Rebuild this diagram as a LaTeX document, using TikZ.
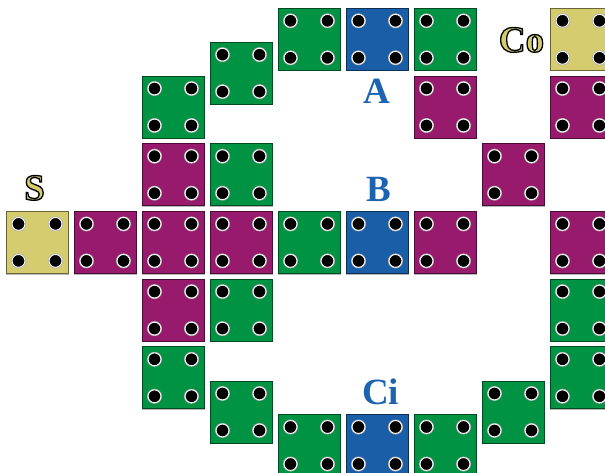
\documentclass[tikz,border=0pt]{standalone}
\usepackage{fontspec}
\setmainfont{Liberation Serif}
\definecolor{grn}{RGB}{0,147,68}
\definecolor{mag}{RGB}{151,26,108}
\definecolor{blu}{RGB}{26,94,168}
\definecolor{yel}{RGB}{213,203,111}
\definecolor{lblu}{RGB}{28,100,176}
\newcommand{\outlinetext}[1]{{\color{yel}\special{pdf:literal direct 0 0 0 RG 2 Tr 1.3 w}#1\special{pdf:literal direct 0 Tr}}}
\tikzset{
  tile/.style={rectangle, minimum width=62pt, minimum height=62pt, inner sep=0pt,
    fill=#1, draw=#1!50!black, line width=0.8pt,
    path picture={
      \foreach \sx in {-18.5,18.5}{\foreach \sy in {-18.5,18.5}{
        \fill[gray!65] ([shift={(\sx pt,\sy pt)}]path picture bounding box.center) circle (7.5pt);
        \filldraw[fill=black,draw=white,line width=0.9pt] ([shift={(\sx pt,\sy pt)}]path picture bounding box.center) circle (6.4pt);
      }}
    }},
  shadow/.style={rectangle, minimum width=63.4pt, minimum height=63.4pt, inner sep=0pt, fill=gray!55},
  lbl/.style={font=\bfseries\fontsize{37}{40}\selectfont, text=lblu, inner sep=0pt, anchor=base},
  olbl/.style={font=\bfseries\fontsize{37}{40}\selectfont, inner sep=0pt, anchor=base},
}
\begin{document}
\begin{tikzpicture}[x=1pt,y=-1pt]
\useasboundingbox (0,0) rectangle (605,473);
\clip (0,0) rectangle (605,473);
\fill[white] (0,0) rectangle (605,473);
\foreach \n/\cx/\cy/\c in {
  s1/37/242.4/yel, m1/105/242.4/mag,
  c3a/173/107/grn, c3b/173/174.7/mag, c3c/173/242.4/mag, c3d/173/310.1/mag, c3e/173/377.8/grn,
  c4a/241/73.15/grn, c4b/241/174.7/grn, c4c/241/242.4/mag, c4d/241/310.1/grn, c4e/241/411.95/grn,
  c5a/309/39.3/grn, c5b/309/242.4/grn, c5c/309/445.5/grn,
  c6a/377/39.3/blu, c6b/377/242.4/blu, c6c/377/445.5/blu,
  c7a/445/39.3/grn, c7b/445/107/mag, c7c/445/242.4/mag, c7d/445/445.5/grn,
  c8a/513/174.7/mag, c8b/513/411.95/grn,
  c9a/581/39.3/yel, c9b/581/107/mag, c9c/581/242.4/mag, c9d/581/310.1/grn, c9e/581/377.8/grn}{
  \node[shadow] (sh\n) at (\cx+0.5,\cy+0.5) {};
  \node[tile=\c] (\n) at (\cx,\cy) {};
}
% blue labels
\node[lbl] (A) at (376.5,103.5) {A};
\node[lbl] (B) at (379,201.5) {B};
\node[lbl] (Ci) at (380.5,404) {Ci};
% outlined yellow labels
\node[olbl] (Co) at (521.5,52) {\outlinetext{Co}};
\node[olbl] (S) at (34.5,200) {\outlinetext{S}};
\end{tikzpicture}
\end{document}
